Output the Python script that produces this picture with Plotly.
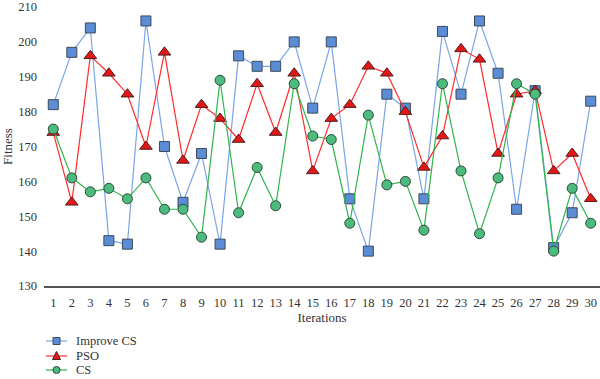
import plotly.graph_objects as go

iterations = list(range(1, 31))
improve_cs = [182, 197, 204, 143, 142, 206, 170, 154, 168, 142, 196, 193, 193, 200, 181,
              200, 155, 140, 185, 181, 155, 203, 185, 206, 191, 152, 186, 141, 151, 183]
pso = [174, 154, 196, 191, 185, 170, 197, 166, 182, 178, 172, 188, 174, 191, 163,
       178, 182, 193, 191, 180, 164, 173, 198, 195, 168, 185, 186, 163, 168, 155]
cs = [175, 161, 157, 158, 155, 161, 152, 152, 144, 189, 151, 164, 153, 188, 173,
      172, 148, 179, 159, 160, 146, 188, 163, 145, 161, 188, 185, 140, 158, 148]
y_ticks = [130, 140, 150, 160, 170, 180, 190, 200, 210]
series_names = ["Improve CS", "PSO", "CS"]

FONT = "Liberation Serif, Times New Roman, serif"
W, H = 600, 379
ML, MR, MT, MB = 44, 0, 7, 93
PW, PH = W - ML - MR, H - MT - MB

styles = [
    dict(line="#7ba5e6", fill="#5a8dd6", edge="#3d4a5a", sym="square"),
    dict(line="#ff2b2b", fill="#e41616", edge="#4a2020", sym="triangle-up"),
    dict(line="#2fb54c", fill="#4cbb7e", edge="#2f4a3a", sym="circle"),
]

fig = go.Figure()
for name, vals, st in zip(series_names, [improve_cs, pso, cs], styles):
    fig.add_trace(go.Scatter(
        x=iterations, y=vals, name=name, mode="lines+markers",
        line=dict(color=st["line"], width=1.2),
        marker=dict(symbol=st["sym"], size=11 if st["sym"] == "triangle-up" else 10,
                    color=st["fill"], line=dict(color=st["edge"], width=1))))

# manual legend (pixel positions converted to paper coords)
def px(x):
    return (x - ML) / PW

def py(y):
    return (H - MB - y) / PH

legend_rows = [341, 356, 370]
for name, st, ry in zip(series_names, styles, legend_rows):
    fig.add_shape(type="line", xref="paper", yref="paper", x0=px(46), x1=px(67),
                  y0=py(ry), y1=py(ry), line=dict(color=st["line"], width=1.2))
    cx, r = 56.5, 3.5
    if st["sym"] == "square":
        fig.add_shape(type="rect", xref="paper", yref="paper", x0=px(cx - r), x1=px(cx + r),
                      y0=py(ry + r), y1=py(ry - r), fillcolor=st["fill"],
                      line=dict(color=st["edge"], width=1))
    elif st["sym"] == "circle":
        fig.add_shape(type="circle", xref="paper", yref="paper", x0=px(cx - r), x1=px(cx + r),
                      y0=py(ry + r), y1=py(ry - r), fillcolor=st["fill"],
                      line=dict(color=st["edge"], width=1))
    else:
        path = "M {} {} L {} {} L {} {} Z".format(px(cx - r - 0.5), py(ry + r), px(cx + r + 0.5), py(ry + r),
                                                  px(cx), py(ry - r - 1))
        fig.add_shape(type="path", xref="paper", yref="paper", path=path, fillcolor=st["fill"],
                      line=dict(color=st["edge"], width=1))
    fig.add_annotation(text=name, xref="paper", yref="paper", x=px(74), y=py(ry),
                       xanchor="left", yanchor="middle", showarrow=False,
                       font=dict(family=FONT, size=12.5, color="#333333"))

fig.update_layout(
    width=W, height=H,
    margin=dict(l=ML, r=MR, t=MT, b=MB, autoexpand=False),
    paper_bgcolor="white", plot_bgcolor="white",
    font=dict(family=FONT, size=12, color="#333333"),
    showlegend=False,
    xaxis=dict(range=[0.5, 30.5], tickmode="array", tickvals=iterations,
               ticktext=[str(i) for i in iterations], showgrid=False, zeroline=False,
               showline=True, linecolor="#555555", linewidth=1.5, ticks="", automargin=False,
               tickfont=dict(family=FONT, size=12.5, color="#333333"), ticklabelstandoff=4,
               title=dict(text="Iterations", font=dict(family=FONT, size=13, color="#333333"), standoff=2)),
    yaxis=dict(range=[130, 210], tickmode="array", tickvals=y_ticks, showgrid=False,
               zeroline=False, showline=False, ticks="", automargin=False,
               tickfont=dict(family=FONT, size=12.5, color="#333333"), ticklabelstandoff=6,
               title=dict(text="Fitness", font=dict(family=FONT, size=13, color="#333333"), standoff=6)),
)
fig.write_html("out.html", config={"displayModeBar": False},
               post_script="document.body.style.margin='0';document.body.style.overflow='hidden';")
